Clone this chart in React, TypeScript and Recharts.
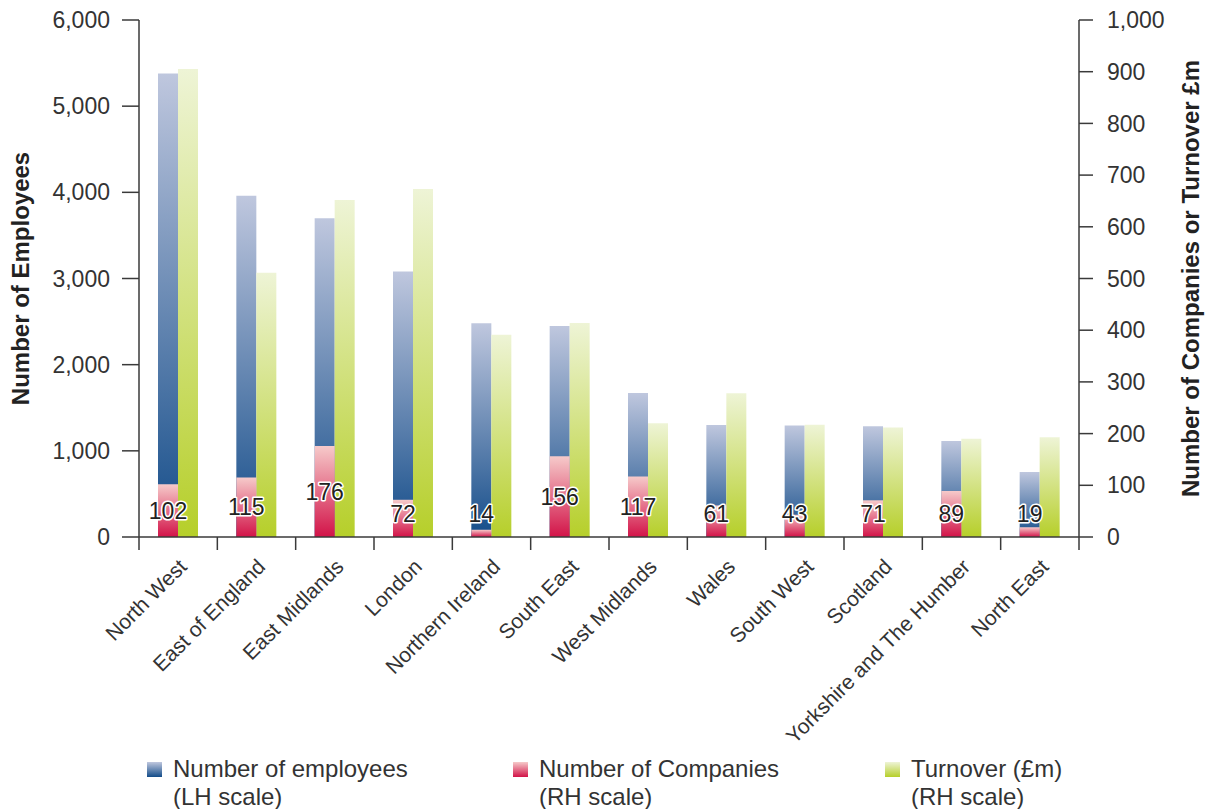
import React from 'react';
import { ComposedChart, Bar, XAxis, YAxis, Legend, LabelList } from 'recharts';

const regions = [
  'North West',
  'East of England',
  'East Midlands',
  'London',
  'Northern Ireland',
  'South East',
  'West Midlands',
  'Wales',
  'South West',
  'Scotland',
  'Yorkshire and The Humber',
  'North East',
];
const employees = [5380, 3960, 3700, 3080, 2480, 2450, 1670, 1300, 1295, 1285, 1115, 755];
const companies = [102, 115, 176, 72, 14, 156, 117, 61, 43, 71, 89, 19];
const turnover = [905, 511, 652, 673, 391, 414, 220, 278, 217, 212, 190, 193];
const leftTicks = [0, 1000, 2000, 3000, 4000, 5000, 6000];
const rightTicks = [0, 100, 200, 300, 400, 500, 600, 700, 800, 900, 1000];

const legendItems = [
  { line1: 'Number of employees', line2: '(LH scale)', top: '#bfc7de', bottom: '#134c89', left: 147 },
  { line1: 'Number of Companies', line2: '(RH scale)', top: '#f6caca', bottom: '#d21348', left: 513 },
  { line1: 'Turnover (£m)', line2: '(RH scale)', top: '#eef4d6', bottom: '#b6cf2a', left: 885 },
];

const data = regions.map((r, i) => ({
  region: r,
  employees: employees[i],
  companies: companies[i],
  turnover: turnover[i],
}));

const FONT = '"Liberation Sans", Arial, sans-serif';
const AXIS = '#3a3a3a';
const TEXT = '#333333';

const fmt = (v: number) => v.toLocaleString('en-GB');

const XTick = (props: any) => {
  const { x, y, payload, index, visibleTicksCount, width } = props;
  let half = 39.17;
  if (payload && typeof payload.offset === 'number' && payload.offset > 5) half = payload.offset;
  else if (width && visibleTicksCount) half = width / visibleTicksCount / 2;
  const tx = x + 10;
  const ty = y + 31;
  return (
    <g>
      <line x1={x - half} x2={x - half} y1={y} y2={y + 13} stroke={AXIS} strokeWidth={1.5} />
      {index === regions.length - 1 && (
        <line x1={x + half} x2={x + half} y1={y} y2={y + 13} stroke={AXIS} strokeWidth={1.5} />
      )}
      <text
        x={tx}
        y={ty}
        transform={`rotate(-45, ${tx}, ${ty})`}
        textAnchor="end"
        fontFamily={FONT}
        fontSize={21}
        fill={TEXT}
      >
        {payload.value}
      </text>
    </g>
  );
};

const CompanyLabel = (props: any) => {
  const { x, y, width, height, value } = props;
  const base = y + height;
  const cy = Math.min(y + height / 2, base - 23);
  return (
    <text
      x={x + width / 2}
      y={cy}
      textAnchor="middle"
      dominantBaseline="central"
      fontFamily={FONT}
      fontSize={23}
      fill="#222"
      stroke="#fff"
      strokeWidth={3}
      paintOrder="stroke"
      strokeLinejoin="round"
    >
      {value}
    </text>
  );
};

const LegendContent = () => (
  <div style={{ position: 'relative', width: 1205, height: 62, fontFamily: FONT }}>
    {legendItems.map((it) => (
      <div key={it.line1} style={{ position: 'absolute', left: it.left, top: 0 }}>
        <div
          style={{
            position: 'absolute',
            left: 0,
            top: 15,
            width: 15,
            height: 15,
            background: `linear-gradient(${it.top}, ${it.bottom})`,
          }}
        />
        <div
          style={{
            position: 'absolute',
            left: 26,
            top: 8,
            whiteSpace: 'nowrap',
            fontSize: 24,
            lineHeight: '28px',
            color: TEXT,
          }}
        >
          {it.line1}
          <br />
          {it.line2}
        </div>
      </div>
    ))}
  </div>
);

const axisTitle = (text: string, dx: number) => (p: any) => {
  const vb = p.viewBox;
  const cx = vb.x + dx;
  const cy = vb.y + vb.height / 2;
  return (
    <text
      x={cx}
      y={cy}
      transform={`rotate(-90, ${cx}, ${cy})`}
      textAnchor="middle"
      dominantBaseline="central"
      fontFamily={FONT}
      fontWeight="bold"
      fontSize={24}
      fill="#222"
    >
      {text}
    </text>
  );
};

export default function App() {
  return (
    <div style={{ position: 'absolute', left: 0, top: 0, width: 1205, height: 809, background: '#fff' }}>
      <ComposedChart
        width={1205}
        height={809}
        data={data}
        barSize={20}
        barGap={0}
        margin={{ top: 20, right: 0, bottom: 0, left: 0 }}
      >
        <defs>
          <linearGradient id="gEmp" x1="0" y1="0" x2="0" y2="1">
            <stop offset="0%" stopColor="#bfc7de" />
            <stop offset="100%" stopColor="#134c89" />
          </linearGradient>
          <linearGradient id="gCo" x1="0" y1="0" x2="0" y2="1">
            <stop offset="0%" stopColor="#f6caca" />
            <stop offset="100%" stopColor="#d21348" />
          </linearGradient>
          <linearGradient id="gTo" x1="0" y1="0" x2="0" y2="1">
            <stop offset="0%" stopColor="#eef4d6" />
            <stop offset="100%" stopColor="#b6cf2a" />
          </linearGradient>
        </defs>
        <XAxis
          xAxisId="a"
          dataKey="region"
          interval={0}
          height={210}
          tickSize={0}
          tickMargin={0}
          tickLine={false}
          axisLine={{ stroke: AXIS, strokeWidth: 1.5 }}
          tick={<XTick />}
        />
        <XAxis xAxisId="b" dataKey="region" hide />
        <YAxis
          yAxisId="left"
          domain={[0, 6000]}
          ticks={leftTicks}
          width={139}
          tickSize={17}
          tickMargin={12}
          tickFormatter={fmt}
          axisLine={{ stroke: AXIS, strokeWidth: 1.5 }}
          tickLine={{ stroke: AXIS, strokeWidth: 1.5 }}
          tick={{ fontFamily: FONT, fontSize: 23, fill: TEXT }}
          label={axisTitle('Number of Employees', 20)}
        />
        <YAxis
          yAxisId="right"
          orientation="right"
          domain={[0, 1000]}
          ticks={rightTicks}
          width={126}
          tickSize={14}
          tickMargin={14}
          tickFormatter={fmt}
          axisLine={{ stroke: AXIS, strokeWidth: 1.5 }}
          tickLine={{ stroke: AXIS, strokeWidth: 1.5 }}
          tick={{ fontFamily: FONT, fontSize: 23, fill: TEXT }}
          label={axisTitle('Number of Companies or Turnover £m', 111)}
        />
        <Legend verticalAlign="bottom" height={62} content={<LegendContent />} />
        <Bar xAxisId="a" yAxisId="left" dataKey="employees" fill="url(#gEmp)" isAnimationActive={false} />
        <Bar xAxisId="a" yAxisId="right" dataKey="turnover" fill="url(#gTo)" isAnimationActive={false} />
        <Bar xAxisId="b" yAxisId="right" dataKey="companies" fill="url(#gCo)" isAnimationActive={false}>
          <LabelList dataKey="companies" content={<CompanyLabel />} />
        </Bar>
        <Bar
          xAxisId="b"
          yAxisId="right"
          dataKey="turnover"
          fill="transparent"
          legendType="none"
          isAnimationActive={false}
        />
      </ComposedChart>
    </div>
  );
}
